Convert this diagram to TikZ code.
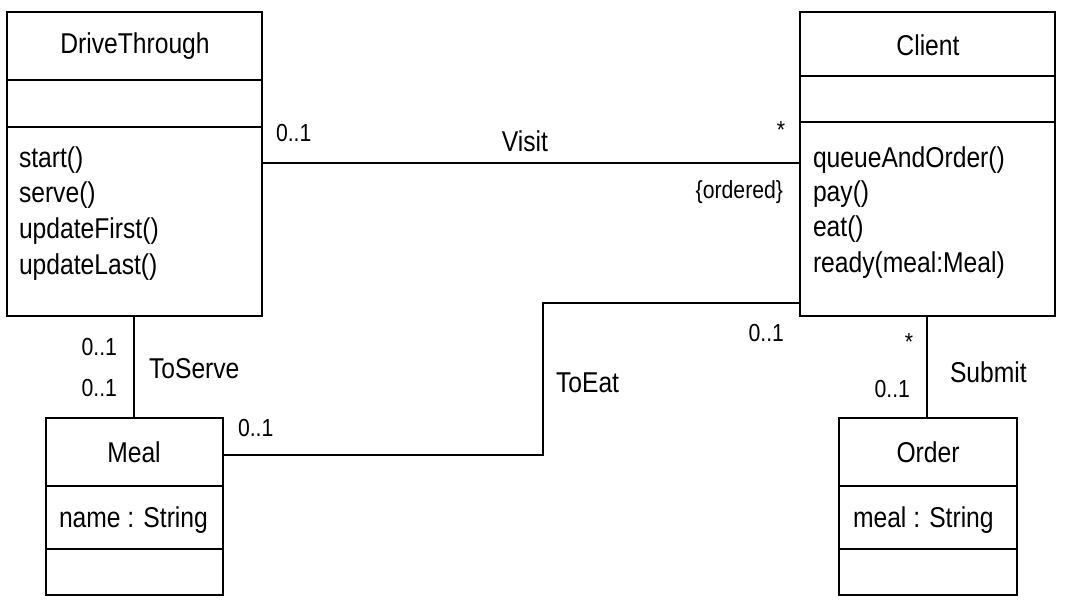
\documentclass[tikz,border=0pt]{standalone}
\usepackage{fontspec}
\setmainfont{Liberation Sans}[FakeStretch=0.86]
\begin{document}
\begin{tikzpicture}[x=0.75pt,y=-0.75pt,
  line width=1.5pt,
  cls/.style={draw, line width=1.5pt, inner sep=0pt, outer sep=0pt, anchor=north west},
  txt/.style={inner sep=0pt, font=\fontsize{21.5}{24}\selectfont},
  mult/.style={inner sep=0pt, font=\fontsize{18.5}{20}\selectfont}]
\useasboundingbox (0,0) rectangle (1067,609);
% class boxes
\node[cls, minimum width=255*0.75pt, minimum height=304*0.75pt] (dt) at (7,12) {};
\node[cls, minimum width=255*0.75pt, minimum height=304*0.75pt] (cl) at (800,12) {};
\node[cls, minimum width=177*0.75pt, minimum height=177*0.75pt] (ml) at (46,418) {};
\node[cls, minimum width=178*0.75pt, minimum height=177*0.75pt] (od) at (839,418) {};
% compartments
\draw (dt.west |- 0,80) -- (dt.east |- 0,80);
\draw (dt.west |- 0,127) -- (dt.east |- 0,127);
\draw (cl.west |- 0,76) -- (cl.east |- 0,76);
\draw (cl.west |- 0,122) -- (cl.east |- 0,122);
\draw (ml.west |- 0,486) -- (ml.east |- 0,486);
\draw (ml.west |- 0,549) -- (ml.east |- 0,549);
\draw (od.west |- 0,486) -- (od.east |- 0,486);
\draw (od.west |- 0,549) -- (od.east |- 0,549);
% texts
\node[txt] (dtn) at (135,46) {DriveThrough};
\node[txt, anchor=base west] (dt1) at (18,168) {start()};
\node[txt, anchor=base west] (dt2) at (18,203) {serve()};
\node[txt, anchor=base west] (dt3) at (18,239) {updateFirst()};
\node[txt, anchor=base west] (dt4) at (18,275) {updateLast()};
\node[txt] (cln) at (928,45) {Client};
\node[txt, anchor=base west] (cl1) at (812,168) {queueAndOrder()};
\node[txt, anchor=base west] (cl2) at (812,202) {pay()};
\node[txt, anchor=base west] (cl3) at (812,237) {eat()};
\node[txt, anchor=base west] (cl4) at (812,273) {ready(meal:Meal)};
\node[txt] (mln) at (134,452) {Meal};
\node[txt, anchor=base west] (ml1) at (58,527) {name : String};
\node[txt] (odn) at (928,452) {Order};
\node[txt, anchor=base west] (od1) at (852,527) {meal : String};
% connectors
\coordinate (bend1) at (543,455);
\coordinate (bend2) at (543,303);
\draw (dt.east |- 0,163) -- (cl.west |- 0,163);
\draw (dt.south -| 134,0) -- (ml.north -| 134,0);
\draw (ml.east |- bend1) -- (bend1) -- (bend2) -- (cl.west |- bend2);
\draw (cl.south -| 927,0) -- (od.north -| 927,0);
% labels
\node[mult, anchor=west] (v1) at (275,133) {0..1};
\node[txt] (vn) at (525,141) {Visit};
\node[mult] (v2) at (781,130) {*};
\node[mult, anchor=east] (v3) at (784,192) {\{ordered\}};
\node[mult, anchor=east] (s1) at (118,347) {0..1};
\node[mult, anchor=east] (s2) at (118,388) {0..1};
\node[txt, anchor=west] (sn) at (148,369) {ToServe};
\node[mult, anchor=west] (e1) at (237,428) {0..1};
\node[txt, anchor=west] (en) at (555,383) {ToEat};
\node[mult, anchor=east] (e2) at (785,333) {0..1};
\node[mult] (o1) at (909,342) {*};
\node[mult, anchor=east] (o2) at (911,389) {0..1};
\node[txt, anchor=west] (on) at (949,372) {Submit};
\end{tikzpicture}
\end{document}
